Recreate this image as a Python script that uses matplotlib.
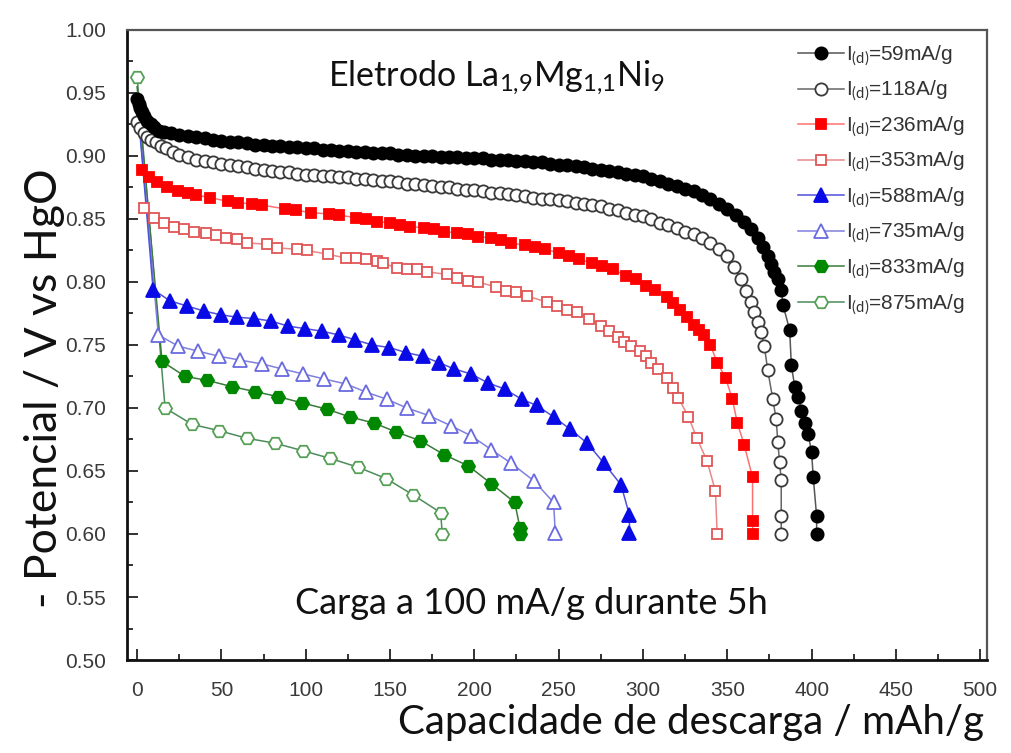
import numpy as np
import matplotlib
matplotlib.use("Agg")
import matplotlib.pyplot as plt
from matplotlib.ticker import MultipleLocator, FormatStrFormatter

plt.rcParams['font.family'] = ['Liberation Sans', 'DejaVu Sans']
plt.rcParams['mathtext.fontset'] = 'custom'
plt.rcParams['mathtext.rm'] = 'Lato'
plt.rcParams['mathtext.it'] = 'Lato:italic'

# discharge curves, capacity (mAh/g) vs potential (V vs HgO)
x_59 = [0, 1, 2, 3, 4, 6, 8, 10, 13, 16, 20, 25, 30, 35, 40, 45, 50, 55, 60, 65,
        70, 75, 80, 85, 90, 95, 100, 105, 110, 115, 120, 125, 130, 135, 140, 145,
        150, 155, 160, 165, 170, 175, 180, 185, 190, 195, 200, 205, 210, 215, 220,
        225, 230, 235, 240, 245, 250, 255, 260, 265, 270, 275, 280, 285, 290, 295,
        300, 305, 310, 315, 320, 325, 330, 335, 340, 345, 350, 355, 360, 364, 368,
        371, 374, 376, 378, 380, 382, 383, 387, 388, 390, 392, 394, 396, 398, 400,
        401, 403, 403]
v_59 = [.945, .941, .938, .935, .932, .928, .925, .923, .920, .919, .918, .917, .916,
        .915, .914, .913, .912, .911, .911, .910, .909, .909, .908, .908, .907, .907,
        .906, .906, .905, .905, .904, .904, .903, .903, .902, .902, .902, .901, .901,
        .900, .900, .900, .899, .899, .899, .898, .898, .898, .897, .897, .897, .896,
        .896, .895, .895, .894, .893, .893, .892, .891, .890, .889, .888, .887, .886,
        .885, .884, .882, .880, .878, .876, .874, .872, .869, .866, .862, .858, .853,
        .848, .842, .835, .828, .821, .814, .808, .802, .794, .782, .762, .734, .717,
        .709, .698, .688, .679, .665, .645, .614, .600]

x_118 = [0, 2, 4, 6, 8, 11, 14, 17, 21, 25, 30, 35, 40, 45, 50, 55, 60, 65, 70, 75,
         80, 85, 90, 95, 100, 105, 110, 115, 120, 125, 130, 135, 140, 145, 150, 155,
         160, 165, 170, 175, 180, 185, 190, 195, 200, 205, 210, 215, 220, 225, 230,
         235, 240, 245, 250, 255, 260, 265, 270, 275, 280, 285, 290, 295, 300, 305,
         310, 315, 320, 325, 330, 335, 340, 345, 350, 354, 358, 361, 364, 366, 368,
         370, 372, 374, 377, 379, 380, 381, 382, 382, 382]
v_118 = [.927, .922, .918, .915, .913, .911, .908, .906, .903, .901, .899, .897, .896,
         .895, .894, .893, .892, .891, .890, .889, .888, .887, .887, .886, .885, .885,
         .884, .884, .883, .883, .882, .882, .881, .880, .880, .879, .878, .878, .877,
         .876, .875, .875, .874, .873, .873, .872, .871, .871, .870, .869, .868, .867,
         .866, .866, .865, .864, .863, .862, .861, .860, .858, .857, .855, .853, .852,
         .850, .847, .845, .843, .840, .838, .835, .831, .826, .821, .812, .802, .793,
         .784, .776, .768, .760, .749, .730, .707, .691, .673, .657, .643, .614, .600]

x_236 = [3, 7, 12, 18, 24, 30, 35, 43, 54, 60, 68, 74, 88, 94, 103, 114, 120, 130,
         136, 142, 150, 156, 162, 170, 176, 182, 190, 196, 202, 210, 216, 222, 230,
         236, 242, 250, 256, 262, 270, 276, 282, 290, 296, 302, 307, 314, 318, 322,
         326, 330, 333, 336, 340, 344, 349, 353, 356, 360, 365, 365, 365]
v_236 = [.889, .883, .879, .875, .872, .871, .869, .867, .864, .863, .862, .861, .858,
         .857, .855, .854, .853, .851, .850, .848, .847, .845, .844, .843, .842, .840,
         .839, .838, .836, .835, .833, .831, .829, .828, .826, .823, .821, .818, .815,
         .813, .810, .805, .802, .797, .794, .788, .783, .778, .772, .766, .762, .758,
         .750, .736, .724, .707, .688, .671, .645, .610, .600]

x_353 = [4, 10, 16, 22, 28, 34, 41, 47, 53, 59, 65, 77, 83, 95, 101, 113, 124, 130,
         136, 142, 146, 154, 160, 166, 172, 184, 190, 196, 202, 213, 219, 225, 231,
         243, 249, 255, 261, 268, 275, 280, 285, 289, 293, 298, 302, 305, 309, 314,
         318, 321, 327, 332, 338, 343, 344]
v_353 = [.859, .851, .847, .844, .842, .840, .839, .837, .835, .834, .831, .830, .827,
         .826, .825, .822, .819, .819, .818, .817, .815, .811, .810, .810, .808, .806,
         .803, .801, .800, .796, .793, .792, .789, .784, .781, .778, .776, .771, .765,
         .761, .756, .752, .749, .745, .741, .736, .731, .724, .716, .708, .693, .676,
         .658, .634, .600]

x_588 = [0, 9.5, 19.5, 29.5, 39.5, 49.5, 59.5, 69.5, 79.5, 89.5, 99.5, 109.5, 119.5,
         129.5, 139.5, 149.5, 159.5, 169.5, 179, 188, 198, 208, 218, 228, 237, 247,
         257, 267, 277, 287, 292, 292]
v_588 = [.945, .794, .785, .781, .777, .774, .772, .771, .769, .765, .763, .761, .758,
         .754, .750, .748, .744, .741, .736, .731, .727, .720, .715, .707, .702, .693,
         .683, .672, .656, .639, .615, .601]

x_735 = [0, 12.6, 24.5, 36.4, 48.8, 61, 74, 86, 98.6, 111, 124, 136, 148, 160, 173,
         186, 198, 210, 222, 235.5, 247, 248]
v_735 = [.945, .758, .749, .745, .741, .738, .735, .731, .727, .723, .719, .7125, .707,
         .700, .694, .686, .678, .667, .656, .642, .625, .601]

x_833 = [0, 14.8, 28.5, 41.5, 56, 70, 83.6, 98, 112.7, 126, 140.6, 153.6, 168, 182,
         196.5, 210, 224, 227, 227]
v_833 = [.955, .737, .725, .722, .717, .713, .709, .704, .699, .693, .688, .681, .674,
         .663, .654, .640, .625, .605, .600]

x_875 = [0, 16.6, 32.6, 48.6, 65, 82, 98.5, 114.5, 131, 147.7, 163.7, 180, 181]
v_875 = [.963, .700, .687, .682, .676, .672, .666, .660, .653, .644, .631, .617, .600]

labels = [r'I$_{\mathrm{(d)}}$=59mA/g', r'I$_{\mathrm{(d)}}$=118A/g',
          r'I$_{\mathrm{(d)}}$=236mA/g', r'I$_{\mathrm{(d)}}$=353mA/g',
          r'I$_{\mathrm{(d)}}$=588mA/g', r'I$_{\mathrm{(d)}}$=735mA/g',
          r'I$_{\mathrm{(d)}}$=833mA/g', r'I$_{\mathrm{(d)}}$=875mA/g']

fig = plt.figure(figsize=(10.11, 7.53), dpi=100)
ax = fig.add_axes([0.1256, 0.1235, 0.8506, 0.8367])

# (x, y, marker, marker edge, marker face, line colour, size, markevery, zorder)
series = [
    (x_59, v_59, 'o', 'black', 'black', '#555555', 8.8, None, 9),
    (x_118, v_118, 'o', '#3a3a3a', 'white', '#666666', 8.8, None, 8),
    (x_236, v_236, 's', '#ff0000', '#ff0000', '#ff7070', 7.8, None, 7),
    (x_353, v_353, 's', '#e05555', 'white', '#e88888', 7.8, None, 6),
    (x_588, v_588, '^', '#0a0ae6', '#0a0ae6', '#5050dd', 9.5, slice(1, None), 5),
    (x_735, v_735, '^', '#6a6ae0', 'white', '#8080e0', 9.5, slice(1, None), 4),
    (x_833, v_833, 'H', '#008800', '#008800', '#3a7a3a', 9.5, slice(1, None), 3),
    (x_875, v_875, 'H', '#55a055', 'white', '#4c8c5c', 9.5, None, 2),
]

handles = []
for (xs, ys, mk, ec, fc, lc, ms, me, zo), lab in zip(series, labels):
    h, = ax.plot(xs, ys, color=lc, lw=1.1, marker=mk, markersize=ms,
                 markeredgecolor=ec, markerfacecolor=fc, markeredgewidth=1.3,
                 markevery=me, zorder=zo, label=lab)
    handles.append(h)

ax.set_xlim(-6, 504)
ax.set_ylim(0.5, 1.0)
ax.xaxis.set_major_locator(MultipleLocator(50))
ax.xaxis.set_minor_locator(MultipleLocator(25))
ax.yaxis.set_major_locator(MultipleLocator(0.05))
ax.yaxis.set_minor_locator(MultipleLocator(0.025))
ax.yaxis.set_major_formatter(FormatStrFormatter('%.2f'))
ax.tick_params(which='both', direction='in', top=False, right=False,
               colors='#222222', labelcolor='#3a3a3a', labelsize=15, width=1.3)
ax.tick_params(which='major', length=8, pad=15)
ax.tick_params(which='minor', length=4)

for side in ['left', 'bottom']:
    ax.spines[side].set_linewidth(2.0)
    ax.spines[side].set_color('#111111')
for side in ['top', 'right']:
    ax.spines[side].set_linewidth(1.6)
    ax.spines[side].set_color('#555555')

leg = ax.legend(handles=handles, loc='upper left', bbox_to_anchor=(0.78, 0.978),
                frameon=False, fontsize=15, handlelength=2.2, handletextpad=0.1,
                labelspacing=0.55, borderpad=0, borderaxespad=0)
for t in leg.get_texts():
    t.set_color('#333333')

ax.text(0.43, 0.924, r'Eletrodo La$_{1{,}9}$Mg$_{1{,}1}$Ni$_9$', transform=ax.transAxes,
        ha='center', va='center', fontsize=24.5, family='Lato', color='#111111')
ax.text(0.47, 0.090, 'Carga a 100 mA/g durante 5h', transform=ax.transAxes,
        ha='center', va='center', fontsize=26, family='Lato', color='#111111')

fig.text(0.684, 0.041, 'Capacidade de descarga / mAh/g', ha='center', va='center',
         fontsize=29, family='Lato', color='#111111')
fig.text(0.0445, 0.485, '- Potencial / V vs HgO', ha='center', va='center',
         rotation=90, fontsize=32, family='Lato', color='#111111')

fig.savefig('out.png', dpi=100)
